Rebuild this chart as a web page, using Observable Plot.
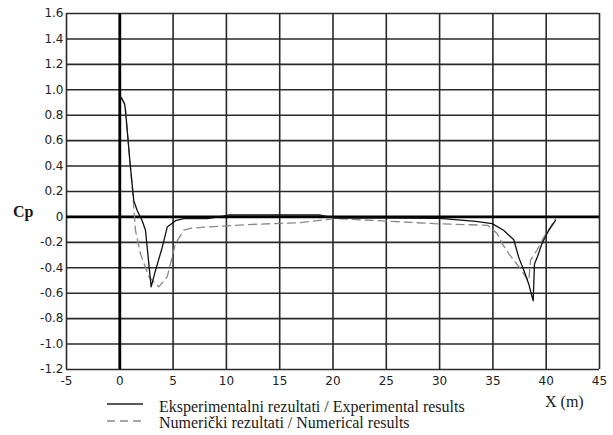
<!DOCTYPE html>
<html>
<head>
<meta charset="utf-8">
<script src="https://cdn.jsdelivr.net/npm/d3@7"></script>
<script src="https://cdn.jsdelivr.net/npm/@observablehq/plot@0.6"></script>
<style>
  html, body { margin: 0; padding: 0; background: #fff; }
  #wrap { position: relative; width: 613px; height: 435px; overflow: hidden; }
  .lbl { position: absolute; font-family: "Liberation Serif", "Times New Roman", serif; color: #1a1a1a; white-space: nowrap; line-height: 1; }
</style>
</head>
<body>
<div id="wrap"></div>
<script>
// Tick values
const xTicks = [-5, 0, 5, 10, 15, 20, 25, 30, 35, 40, 45];
const yTicks = [-1.2, -1.0, -0.8, -0.6, -0.4, -0.2, 0, 0.2, 0.4, 0.6, 0.8, 1.0, 1.2, 1.4, 1.6];

// Experimental results (solid)
const expX = [0.13, 0.44, 0.53, 1.0, 1.31, 1.63, 2.1, 2.41, 2.94, 3.35, 3.98, 4.45, 5.22, 6.0, 8.2, 9.3, 10.2, 14.0, 18.8, 20.2, 25.0, 30.0, 32.0, 33.4, 34.93, 36.0, 36.96, 37.43, 37.9, 38.37, 38.78, 38.9, 39.15, 39.6, 40.24, 40.87];
const expY = [0.94, 0.89, 0.84, 0.39, 0.13, 0.05, -0.03, -0.105, -0.55, -0.42, -0.24, -0.08, -0.03, -0.013, -0.013, 0.0, 0.015, 0.015, 0.015, -0.01, -0.01, -0.012, -0.025, -0.035, -0.053, -0.105, -0.18, -0.32, -0.42, -0.53, -0.66, -0.37, -0.32, -0.21, -0.105, -0.027];

// Numerical results (dashed)
const numX = [0.13, 0.44, 0.53, 1.0, 1.16, 1.31, 1.47, 1.94, 2.72, 3.66, 4.45, 5.22, 6.0, 6.63, 7.9, 9.45, 12.0, 16.95, 20.1, 23.8, 29.5, 34.5, 35.4, 35.87, 36.5, 37.43, 38.06, 38.37, 38.53, 39.15, 39.77, 40.4, 40.87];
const numY = [0.94, 0.89, 0.84, 0.39, 0.24, 0.08, -0.105, -0.29, -0.47, -0.55, -0.47, -0.21, -0.105, -0.09, -0.08, -0.074, -0.06, -0.045, -0.013, -0.027, -0.053, -0.066, -0.13, -0.21, -0.29, -0.39, -0.47, -0.5, -0.34, -0.26, -0.16, -0.08, -0.013];

const exp = expX.map((x, i) => ({x, y: expY[i]}));
const num = numX.map((x, i) => ({x, y: numY[i]}));

const fmtY = d => d === 0 ? "0" : d.toFixed(1);

const chart = Plot.plot({
  width: 613,
  height: 435,
  marginLeft: 66,
  marginRight: 14,
  marginTop: 13,
  marginBottom: 66,
  x: {domain: [-5, 45]},
  y: {domain: [-1.2, 1.6]},
  style: {fontFamily: "DejaVu Sans", fontSize: "12px", color: "#222", background: "white"},
  marks: [
    Plot.ruleX(xTicks, {stroke: "#2a2a2a", strokeWidth: 1.6}),
    Plot.ruleY(yTicks, {stroke: "#2a2a2a", strokeWidth: 1.6}),
    Plot.ruleX([0], {stroke: "#000", strokeWidth: 2.8}),
    Plot.ruleY([0], {stroke: "#000", strokeWidth: 2.8}),
    Plot.line(num, {x: "x", y: "y", stroke: "#888", strokeWidth: 1.3, strokeDasharray: "8,5"}),
    Plot.line(exp, {x: "x", y: "y", stroke: "#111", strokeWidth: 1.3}),
    Plot.axisX({ticks: xTicks, tickSize: 0, tickPadding: 7, label: null, tickFormat: d => String(d)}),
    Plot.axisY({ticks: yTicks, tickSize: 0, tickPadding: 3, label: null, tickFormat: fmtY})
  ]
});

const wrap = document.getElementById("wrap");
wrap.appendChild(chart);

function addLabel(text, left, top, size, extra) {
  const d = document.createElement("div");
  d.className = "lbl";
  d.textContent = text;
  d.style.left = left + "px";
  d.style.top = top + "px";
  d.style.fontSize = size + "px";
  if (extra) Object.assign(d.style, extra);
  wrap.appendChild(d);
}
addLabel("Cp", 13, 203.5, 16, {fontWeight: "bold"});
addLabel("X (m)", 545, 393.5, 16);
addLabel("Eksperimentalni rezultati / Experimental results", 159, 398.5, 16);
addLabel("Numerički rezultati / Numerical results", 159, 414.5, 16);

function addSample(top, dash, color) {
  const ns = "http://www.w3.org/2000/svg";
  const s = document.createElementNS(ns, "svg");
  s.setAttribute("width", 36);
  s.setAttribute("height", 4);
  s.style.position = "absolute";
  s.style.left = "107px";
  s.style.top = top + "px";
  const l = document.createElementNS(ns, "line");
  l.setAttribute("x1", 0); l.setAttribute("x2", 36);
  l.setAttribute("y1", 2); l.setAttribute("y2", 2);
  l.setAttribute("stroke", color);
  l.setAttribute("stroke-width", 1.4);
  if (dash) l.setAttribute("stroke-dasharray", dash);
  s.appendChild(l);
  wrap.appendChild(s);
}
addSample(402, null, "#222");
addSample(419, "8,5", "#8a8a8a");
</script>
</body>
</html>
